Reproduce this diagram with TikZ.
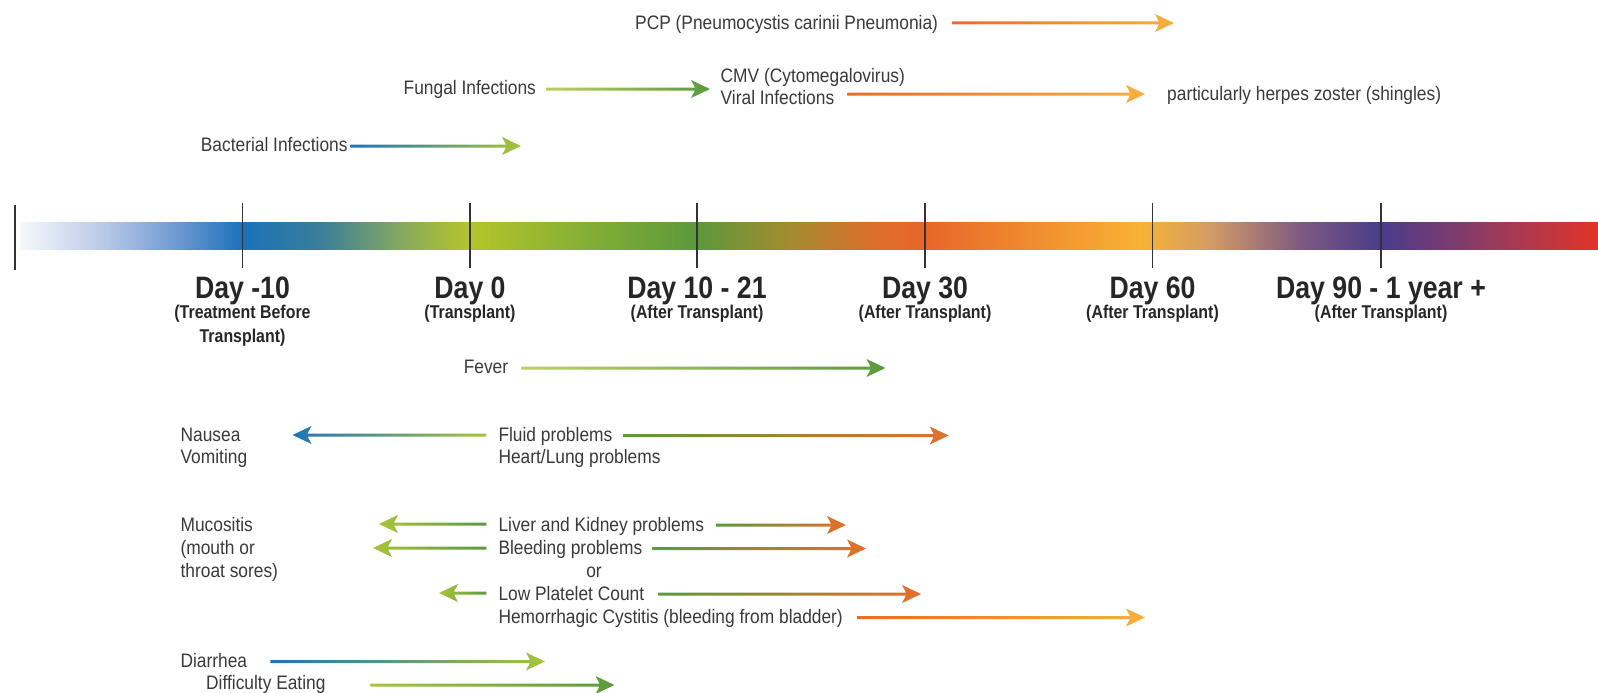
\documentclass[tikz,border=0pt]{standalone}
\usepackage{fontspec}
\setmainfont[FakeStretch=0.89]{Liberation Sans}
\newfontfamily\dayfont[FakeStretch=0.86]{Liberation Sans}
\usetikzlibrary{calc}

% text colours
\definecolor{ink}{HTML}{3A3A3A}
\definecolor{dayink}{HTML}{262626}
% arrow colours
\definecolor{cblue}{HTML}{1F74BA}
\definecolor{cyg}{HTML}{A8C43A}
\definecolor{clg}{HTML}{BCD062}
\definecolor{cgreen}{HTML}{5A9A3E}
\definecolor{corange}{HTML}{E66E2A}
\definecolor{cyo}{HTML}{F6B03C}
% colour stops of the timeline bar
\definecolor{s0}{HTML}{F6F8FC}
\definecolor{s1}{HTML}{B3C5E6}
\definecolor{s2}{HTML}{5E90CC}
\definecolor{s3}{HTML}{1A72BB}
\definecolor{s4}{HTML}{3A7E98}
\definecolor{s5}{HTML}{86A860}
\definecolor{s6}{HTML}{B4C52A}
\definecolor{s7}{HTML}{83AE36}
\definecolor{s8}{HTML}{5B993B}
\definecolor{s9}{HTML}{A48B2F}
\definecolor{s10}{HTML}{DF6C2B}
\definecolor{s11}{HTML}{E8662A}
\definecolor{s12}{HTML}{F18F30}
\definecolor{s13}{HTML}{F8B234}
\definecolor{s14}{HTML}{D39C66}
\definecolor{s15}{HTML}{7E5A80}
\definecolor{s16}{HTML}{493C8B}
\definecolor{s17}{HTML}{8F3B63}
\definecolor{s18}{HTML}{E33327}

% shaded right-pointing arrow: #1 tail, #2 tip, #3 tail colour, #4 tip colour
\newcommand\arrowR[4]{%
  \shade[left color=#3,right color=#4] let \p1=(#1), \p2=(#2) in
    (\x1,\y2+1.5pt) -- (\x2-15pt,\y2+1.5pt) -- (\x2-19pt,\y2+9pt) -- (\x2,\y2)
    -- (\x2-19pt,\y2-9pt) -- (\x2-15pt,\y2-1.5pt) -- (\x1,\y2-1.5pt) -- cycle;}
% shaded left-pointing arrow: #1 tip, #2 tail, #3 tip colour, #4 tail colour
\newcommand\arrowL[4]{%
  \shade[left color=#3,right color=#4] let \p1=(#1), \p2=(#2) in
    (\x2,\y1+1.5pt) -- (\x1+15pt,\y1+1.5pt) -- (\x1+19pt,\y1+9pt) -- (\x1,\y1)
    -- (\x1+19pt,\y1-9pt) -- (\x1+15pt,\y1-1.5pt) -- (\x2,\y1-1.5pt) -- cycle;}

\begin{document}
\begin{tikzpicture}[x=1pt,y=-1pt,
  lbl/.style={anchor=west,inner sep=0pt,text=ink,
    font=\fontsize{19.5}{23}\selectfont,text height=14pt,text depth=0pt},
  daylbl/.style={anchor=center,inner sep=0pt,text=dayink,
    font=\dayfont\fontsize{31}{35}\selectfont\bfseries,text height=22pt,text depth=0pt},
  sublbl/.style={anchor=center,inner sep=0pt,text=dayink,
    font=\dayfont\fontsize{18.5}{21}\selectfont\bfseries,text height=13pt,text depth=0pt},
  tickline/.style={draw=black!80,line width=1.1pt}]

\useasboundingbox (0,0) rectangle (1598,693);
\fill[white] (0,0) rectangle (1598,693);

% ---- timeline bar ----
\foreach \xa/\ca/\xb/\cb in {20/s0/110/s1,110/s1/190/s2,190/s2/242/s3,242/s3/320/s4,
  320/s4/400/s5,400/s5/470/s6,470/s6/590/s7,590/s7/697/s8,697/s8/790/s9,
  790/s9/880/s10,880/s10/925/s11,925/s11/1040/s12,1040/s12/1140/s13,
  1140/s13/1210/s14,1210/s14/1300/s15,1300/s15/1381/s16,1381/s16/1480/s17,
  1480/s17/1598/s18}
  \shade[left color=\ca,right color=\cb] (\xa,222) rectangle (\xb+0.6,249);

\draw[tickline] (15,205) -- (15,270);
\foreach \x in {242.5,470,697,925,1152.5,1381}
  \draw[tickline] (\x,203) -- (\x,268);

% ---- day labels ----
\node[daylbl] (dm10) at (242.5,287.5) {Day -10};
\node[sublbl] (dm10a) at (242.5,312) {(Treatment Before};
\node[sublbl] (dm10b) at (242.5,336) {Transplant)};
\node[daylbl] (d0) at (470,287.5) {Day 0};
\node[sublbl] (d0a) at (470,312) {(Transplant)};
\node[daylbl] (d10) at (697,287.5) {Day 10 - 21};
\node[sublbl] (d10a) at (697,312) {(After Transplant)};
\node[daylbl] (d30) at (925,287.5) {Day 30};
\node[sublbl] (d30a) at (925,312) {(After Transplant)};
\node[daylbl] (d60) at (1152.5,287.5) {Day 60};
\node[sublbl] (d60a) at (1152.5,312) {(After Transplant)};
\node[daylbl] (d90) at (1381,287.5) {Day 90 - 1 year +};
\node[sublbl] (d90a) at (1381,312) {(After Transplant)};

% ---- infections above the bar ----
\node[lbl] (pcp) at (635,22.5) {PCP (Pneumocystis carinii Pneumonia)};
\coordinate (pcpTip) at (1174,23);
\arrowR{$(pcp.east)+(14,0)$}{pcpTip}{corange}{cyo}

\node[lbl] (cmv) at (720.5,75.5) {CMV (Cytomegalovirus)};
\node[lbl] (viral) at (720.5,97) {Viral Infections};
\node[lbl] (herpes) at (1167,93) {particularly herpes zoster (shingles)};
\coordinate (viralTip) at (1145,94);
\arrowR{$(viral.east)+(13,0)$}{viralTip}{corange}{cyo}

\node[lbl] (fungal) at (403.5,87.5) {Fungal Infections};
\coordinate (fungalTip) at (710,89);
\arrowR{$(fungal.east)+(10,0)$}{fungalTip}{clg}{cgreen}

\node[lbl] (bact) at (200.7,144) {Bacterial Infections};
\coordinate (bactTip) at (521,146);
\arrowR{$(bact.east)+(3,0)$}{bactTip}{cblue}{cyg}

% ---- side effects below the bar ----
\node[lbl] (fever) at (463.6,366) {Fever};
\coordinate (feverTip) at (885.5,368);
\arrowR{$(fever.east)+(13,0)$}{feverTip}{clg}{cgreen}

\node[lbl] (nausea) at (180.4,434) {Nausea};
\node[lbl] (vomit) at (180.4,456.5) {Vomiting};
\node[lbl] (fluid) at (498.3,434) {Fluid problems};
\node[lbl] (heart) at (498.3,456.5) {Heart/Lung problems};
\coordinate (nauseaTip) at (292.5,435);
\arrowL{nauseaTip}{$(fluid.west)+(-12,0)$}{cblue}{cyg}
\coordinate (fluidTip) at (948.7,435.5);
\arrowR{$(fluid.east)+(11,0)$}{fluidTip}{cgreen}{corange}

\node[lbl] (muc) at (180.4,524) {Mucositis};
\node[lbl] (mouth) at (180.4,547.2) {(mouth or};
\node[lbl] (throat) at (180.4,570.6) {throat sores)};

\node[lbl] (liver) at (498.3,524) {Liver and Kidney problems};
\coordinate (liverL) at (379,524);
\coordinate (liverR) at (846,525);
\arrowL{liverL}{$(liver.west)+(-12,0)$}{cyg}{cgreen}
\arrowR{$(liver.east)+(12,0)$}{liverR}{cgreen}{corange}

\node[lbl] (bleed) at (498.3,547.2) {Bleeding problems};
\coordinate (bleedL) at (373,548);
\coordinate (bleedR) at (866,548.5);
\arrowL{bleedL}{$(bleed.west)+(-12,0)$}{cyg}{cgreen}
\arrowR{$(bleed.east)+(10,0)$}{bleedR}{cgreen}{corange}

\node[lbl,anchor=center] (or) at (594,570.6) {or};

\node[lbl] (plate) at (498.3,593) {Low Platelet Count};
\coordinate (plateL) at (439,593);
\coordinate (plateR) at (921,594);
\arrowL{plateL}{$(plate.west)+(-12,0)$}{cyg}{cgreen}
\arrowR{$(plate.east)+(14,0)$}{plateR}{cgreen}{corange}

\node[lbl] (hemo) at (498.3,616.5) {Hemorrhagic Cystitis (bleeding from bladder)};
\coordinate (hemoTip) at (1145,617.5);
\arrowR{$(hemo.east)+(14,0)$}{hemoTip}{corange}{cyo}

\node[lbl] (diarrhea) at (180.4,660) {Diarrhea};
\coordinate (diarrheaTip) at (545,661.5);
\arrowR{$(diarrhea.east)+(23,0)$}{diarrheaTip}{cblue}{cyg}

\node[lbl] (eating) at (206,682.7) {Difficulty Eating};
\coordinate (eatingTip) at (614.5,685);
\arrowR{$(eating.east)+(45,0)$}{eatingTip}{cyg}{cgreen}

\end{tikzpicture}
\end{document}
